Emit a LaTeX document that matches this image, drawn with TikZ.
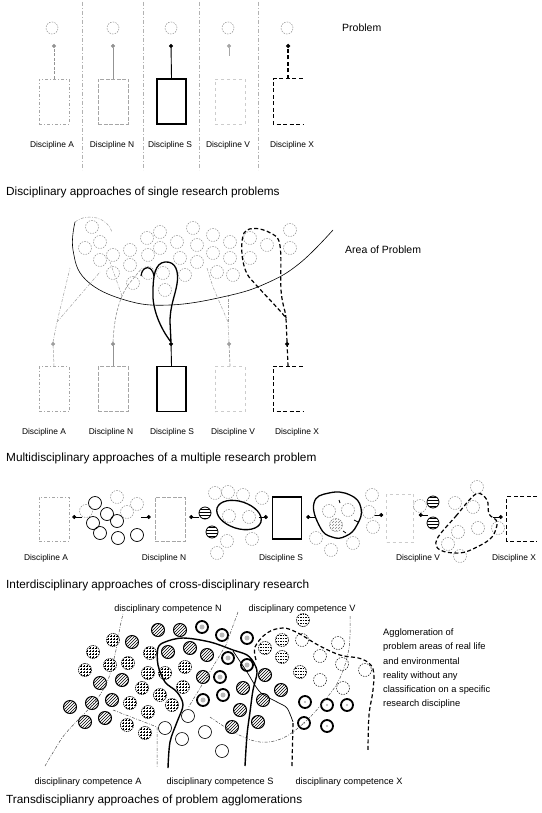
\documentclass[tikz,border=0pt]{standalone}
\usepackage{fontspec}
\setmainfont{Liberation Sans}
\usetikzlibrary{arrows.meta,patterns,calc,shapes.geometric}
\begin{document}
\begin{tikzpicture}[x=1pt,y=-1pt,
  lab/.style={font=\fontsize{8.4}{10}\selectfont, inner sep=0},
  clab/.style={font=\fontsize{9.2}{11}\selectfont, inner sep=0},
  captxt/.style={font=\fontsize{11.8}{13}\selectfont, anchor=west, inner sep=0},
  sidelab/.style={font=\fontsize{10.5}{12}\selectfont, anchor=west, inner sep=0},
  sepline/.style={gray!60, line width=0.4pt, dash pattern=on 4pt off 2pt on 1pt off 2pt},
  pcirc/.style={circle, draw=gray!85, line width=0.55pt, dash pattern=on 1.5pt off 1.2pt, minimum size=12pt, inner sep=0},
  boxbase/.style={minimum width=30pt, minimum height=45pt, inner sep=0},
  boxlight/.style={boxbase, draw=gray!70, line width=0.5pt, dash pattern=on 3pt off 2pt on 1pt off 2pt},
  boxN/.style={boxbase, draw=gray!70, line width=0.5pt, dash pattern=on 4pt off 1.5pt},
  boxS/.style={boxbase, draw, line width=1.3pt},
  boxV/.style={boxbase, draw=gray!40, line width=0.4pt, dash pattern=on 3pt off 3pt},
  boxX/.style={boxbase},
  xdash/.style={line width=1.2pt, dash pattern=on 4pt off 2.5pt},
  thinddot/.style={gray!75, line width=0.5pt, dash pattern=on 3pt off 1.5pt on 0.8pt off 1.5pt},
  dotarr/.style={-{Circle[length=4pt]}},
  mc/.style={gray!85, line width=0.55pt, dash pattern=on 1.5pt off 1.2pt},
  sc/.style={line width=0.7pt},
  cD/.style={line width=1pt, pattern=north east lines},
  cG/.style={line width=0.6pt, dash pattern=on 1.2pt off 0.8pt, pattern=grid},
  cH/.style={line width=0.6pt, dash pattern=on 1.5pt off 1pt, pattern=horizontal lines},
  cL/.style={line width=0.5pt, dash pattern=on 1.5pt off 1.2pt},
  cT/.style={line width=1.8pt},
  cO/.style={line width=0.6pt}
]
\fill[white] (0,0) rectangle (541,813);
\useasboundingbox (0,0) rectangle (541,813);

% ================= Section 1 =================
\foreach \x in {82,143,199,258} \draw[sepline] (\x,2) -- (\x,170);

\node[pcirc] (pA1) at (52,28) {};
\node[pcirc] (pN1) at (113,28) {};
\node[pcirc] (pS1) at (171,28) {};
\node[pcirc] (pV1) at (228,28) {};
\node[pcirc] (pX1) at (287,28) {};

\node[boxlight] (bA1) at (54,101.5) {};
\node[boxN] (bN1) at (113,101.5) {};
\node[boxS, minimum width=29pt] (bS1) at (171.5,101.5) {};
\node[boxV] (bV1) at (230,101.5) {};
\node[boxX, minimum width=29pt] (bX1) at (288,101.5) {};
\draw[xdash] (bX1.north east) -- (bX1.north west) -- (bX1.south west) -- (bX1.south east);

\coordinate (tA1) at (54,44);
\coordinate (tN1) at (113,44);
\coordinate (tS1) at (171,44);
\coordinate (tV1) at (229,44);
\coordinate (sV1) at (229,56);
\coordinate (tX1) at (288,44);
\draw[dotarr, gray!85, line width=0.8pt, dash pattern=on 3pt off 1.5pt] (bA1.north) -- (tA1);
\draw[dotarr, gray!85, line width=0.5pt] (bN1.north) -- (tN1);
\draw[dotarr, line width=0.9pt] (bS1.north) -- (tS1);
\draw[dotarr, gray!70, line width=0.5pt] (sV1) -- (tV1);
\draw[dotarr, xdash] (bX1.north) -- (tX1);

\node[lab] (lA1) at (52,145) {Discipline A};
\node[lab] (lN1) at (112,145) {Discipline N};
\node[lab] (lS1) at (170,145) {Discipline S};
\node[lab] (lV1) at (228,145) {Discipline V};
\node[lab] (lX1) at (292,145) {Discipline X};
\node[sidelab] (prob) at (342,28) {Problem};
\node[captxt] (cap1) at (6,192) {Disciplinary approaches of single research problems};

% ================= Section 2 =================
\foreach \x/\y in {92/227,100/242,85/248,100/260,113/255,113/273,130/250,130/265,147/238,160/232,148/255,160/248,177/242,165/290,163/273,148/273,133/283,193/228,197/245,180/258,185/275,197/262,213/235,213/253,230/242,230/258,217/272,233/275,250/238,250/258,267/245,290/230,290/248}
  \draw[mc] (\x,\y) circle (6.5);

\draw[line width=0.6pt] plot[smooth, tension=0.7] coordinates {(75,222) (73,250) (86,280) (125,300) (170,305) (227,296) (267,283) (300,263) (333,230)};
\node[sidelab] (area) at (345,250) {Area of Problem};

\node[boxlight] (bA2) at (54,389) {};
\node[boxN] (bN2) at (113,389) {};
\node[boxS, minimum width=29pt] (bS2) at (171.5,389) {};
\node[boxV] (bV2) at (230,389) {};
\node[boxX, minimum width=29pt] (bX2) at (288,389) {};
\draw[xdash] (bX2.north east) -- (bX2.north west) -- (bX2.south west) -- (bX2.south east);

\coordinate (dA2) at (53,342);
\coordinate (dN2) at (113,342);
\coordinate (dS2) at (171,342);
\coordinate (dV2) at (229,342);
\coordinate (dX2) at (287,342);
\draw[dotarr, gray!75, line width=0.5pt, dash pattern=on 3pt off 1.5pt] (bA2.north) -- (dA2);
\draw[dotarr, gray!85, line width=0.5pt] (bN2.north) -- (dN2);
\draw[dotarr, line width=0.9pt] (bS2.north) -- (dS2);
\draw[dotarr, gray!75, line width=0.7pt, dash pattern=on 3pt off 1.5pt] (bV2.north) -- (dV2);
\draw[dotarr, xdash] (bX2.north) -- (dX2);

% A branches
\draw[thinddot] (dA2) -- (57,322) -- (70,268);
\draw[thinddot] (57,322) -- (100,272);
\draw[thinddot] (75,222) .. controls (88,212) and (108,218) .. (112,232);
% N branches
\draw[gray!85, line width=0.6pt, dash pattern=on 3pt off 1.5pt] (dN2) .. controls (114,320) and (118,300) .. (128,285) -- (142,268);
\draw[thinddot] (122,296) -- (110,262);
% S thick loop
\draw[line width=1.3pt] (dS2) .. controls (160,328) and (152,308) .. (153,292) .. controls (153,276) and (155,263) .. (165,262) .. controls (176,261) and (179,272) .. (177,284) .. controls (175,296) and (170,306) .. (170,322) -- (dS2);
\draw[line width=1.2pt] (141,276) .. controls (142,266) and (152,264) .. (154,276);
% V branches
\draw[thinddot] (dV2) -- (228,322) -- (213,287) -- (207,268);
\draw[thinddot] (228,322) -- (228,296);
% X thick dashed loop
\draw[xdash] (dX2) -- (286,318) .. controls (280,310) and (262,292) .. (249,277) .. controls (241,266) and (240,242) .. (244,233) .. controls (249,225) and (265,228) .. (277,237) .. controls (283,245) and (280,270) .. (281,290) .. controls (282,305) and (286,312) .. (286,318);

\node[lab] (lA2) at (44,432) {Discipline A};
\node[lab] (lN2) at (111,432) {Discipline N};
\node[lab] (lS2) at (172,432) {Discipline S};
\node[lab] (lV2) at (233,432) {Discipline V};
\node[lab] (lX2) at (297,432) {Discipline X};
\node[captxt] (cap2) at (6,458) {Multidisciplinary approaches of a multiple research problem};

% ================= Section 3 =================
\node[boxlight, minimum height=44pt] (bA3) at (54,519) {};
\node[boxN, minimum height=44pt] (bN3) at (170,519) {};
\node[boxS, minimum height=42pt, minimum width=29pt] (bS3) at (287,518) {};
\node[boxV, minimum height=48pt, minimum width=27pt] (bV3) at (400,518) {};
\node[boxX, minimum height=44pt] (bX3) at (522,519) {};
\draw[xdash] (bX3.north east) -- (bX3.north west) -- (bX3.south west) -- (bX3.south east);

\draw[dotarr, line width=0.7pt] ($(bA3.east)+(13,-2)$) -- ($(bA3.east)+(3,-2)$);
\draw[dotarr, line width=0.7pt] ($(bN3.west)+(-14,-2)$) -- ($(bN3.west)+(-4,-2)$);
\draw[dotarr, line width=0.7pt] ($(bN3.east)+(14,-2)$) -- ($(bN3.east)+(4,-2)$);
\draw[dotarr, line width=0.7pt] ($(bS3.west)+(-13,-1)$) -- ($(bS3.west)+(-4,-1)$);
\draw[dotarr, line width=0.7pt] ($(bS3.east)+(13,-1)$) -- ($(bS3.east)+(4,-1)$);
\draw[dotarr, line width=0.7pt] ($(bV3.west)+(-12,-3)$) -- ($(bV3.west)+(-3,-3)$);
\draw[dotarr, line width=0.7pt] ($(bV3.east)+(14,-3)$) -- ($(bV3.east)+(5,-3)$);
\draw[dotarr, line width=0.7pt] ($(bX3.west)+(-14,-2)$) -- ($(bX3.west)+(-4,-2)$);

% A-N cluster
\foreach \x/\y in {95/503,107/514,93/523,100/533,118/538,137/535,117/521}
  \draw[sc] (\x,\y) circle (6.5);
\foreach \x/\y in {117/497,137/504,127/512,86/511}
  \draw[mc] (\x,\y) circle (6.5);
% N-S cluster
\foreach \x/\y in {215/493,228/492,243/495,227/541,252/539,217/553,262/498}
  \draw[mc] (\x,\y) circle (6.5);
\draw[line width=0.8pt, pattern=horizontal lines] (205,513) circle (6);
\draw[line width=0.8pt, pattern=horizontal lines] (212,532) circle (6);
\draw[line width=1.3pt, rotate around={-18:(239,515)}] (239,515) ellipse (23 and 13.5);
\draw[mc, gray!95] (229,516) circle (6.5);
\draw[mc, gray!95] (249,517) circle (6.5);
% S-V cluster
\foreach \x/\y in {372/495,369/512,373/527,353/543,331/550,316/538}
  \draw[mc] (\x,\y) circle (6.5);
\draw[line width=1.3pt] plot[smooth cycle, tension=0.8] coordinates {(314,503) (329,493) (350,495) (361,508) (357,525) (346,536) (332,537) (320,527)};
\draw[mc, gray!95] (329,511) circle (6.5);
\draw[mc, gray!95] (348,510) circle (6.5);
\draw[mc, gray!95, pattern=north east lines, pattern color=gray] (336,525) circle (6.5);
\draw[line width=0.8pt] (339,500) -- (340,503) (354,520) -- (358,522) (343,531) -- (346,533);
% V-X cluster
\draw[line width=0.8pt, pattern=horizontal lines] (433,502) circle (6);
\draw[line width=0.8pt, pattern=horizontal lines] (433,523) circle (6);
\foreach \x/\y in {455/503,477/487,498/528,460/556,420/506}
  \draw[mc] (\x,\y) circle (6.5);
\draw[xdash] plot[smooth cycle, tension=0.6] coordinates {(437,539) (456,516) (476,494) (487,500) (489,514) (497,522) (492,537) (477,547) (460,553) (440,550)};
\foreach \x/\y in {473/507,478/528,458/532,448/544}
  \draw[mc, gray!95] (\x,\y) circle (6.5);

\node[lab] (lA3) at (46,558) {Discipline A};
\node[lab] (lN3) at (164,558) {Discipline N};
\node[lab] (lS3) at (281,558) {Discipline S};
\node[lab] (lV3) at (418,558) {Discipline V};
\node[lab] (lX3) at (514,558) {Discipline X};
\node[captxt] (cap3) at (6,585) {Interdisciplinary approaches of cross-disciplinary research};

% ================= Section 4 =================
% diagonal hatched
\foreach \x/\y in {132/642,158/630,180/630,168/652,190/648,207/655,203/677,100/683,122/680,70/707,92/703,112/700,85/722,105/718,243/688,265/675,263/700,240/710,258/722,232/727,281/690}
  \draw[cD] (\x,\y) circle (6.5);
% grid
\foreach \x/\y in {113/640,93/652,150/653,85/670,110/665,128/663,148/673,185/667,165/673,142/688,183/687,160/695,172/705,130/703,148/712,127/725,145/733}
  \draw[cG] (\x,\y) circle (6.5);
% thick rings with hatched core
\foreach \x/\y in {202/627,222/635,247/638,228/658,247/665,220/677,223/695,203/700}
  {\draw[cT] (\x,\y) circle (6);
   \fill[gray!55] (\x,\y) circle (2.5);}
% plain thin circles
\foreach \x/\y in {188/716,165/728,182/739,205/732,222/751}
  \draw[cO] (\x,\y) circle (6.5);
% horizontal lined
\foreach \x/\y in {265/648,282/640,282/657,303/620,300/672}
  \draw[cH] (\x,\y) circle (6.5);
% dashed light
\foreach \x/\y in {302/640,320/656,320/680,338/643,342/664,365/670,343/688}
  \draw[cL] (\x,\y) circle (6.5);
% thick rings with dot
\foreach \x/\y in {305/702,327/705,347/705,304/723,327/726}
  {\draw[cT] (\x,\y) circle (6);
   \fill[gray!60] (\x,\y) circle (1.2);}

% S region (thick solid)
\draw[line width=1.4pt] plot[smooth, tension=0.55] coordinates {(168,768) (170,742) (177,722) (183,705) (177,692) (165,682) (158,665) (158,648) (165,642) (183,638) (210,642) (233,650) (247,655) (254,663) (257,673) (253,690) (250,712) (247,735) (245,766)};
% N line (thin solid)
\draw[line width=0.7pt] plot[smooth, tension=0.5] coordinates {(233,651) (247,672) (260,692) (277,702) (287,708) (293,722)};
% X region (thick dashed)
\draw[xdash] (292,766) -- (293,722);
\draw[xdash] plot[smooth, tension=0.6] coordinates {(256,660) (255,647) (267,633) (283,628) (298,633) (318,645) (340,655) (362,659) (373,669) (373,690) (369,715) (368,750)};
% V region (thin dash-dot)
\draw[thinddot, black!70] plot[smooth, tension=0.6] coordinates {(350,616) (349,648) (340,678) (325,700) (305,722) (283,738) (260,742) (235,733) (210,717)};
% A region (thin dash-dot)
\draw[thinddot, black!70] plot[smooth, tension=0.5] coordinates {(45,766) (62,738) (76,722) (95,702) (108,680) (116,650) (120,627) (123,614)};
\draw[thinddot, black!70] (113,710) -- (157,727) -- (157,768);
% N pointer
\draw[thinddot, black!70] (238,612) -- (226,645) -- (188,708);

\node[clab] (cN) at (168,609) {disciplinary competence N};
\node[clab] (cV) at (302,609) {disciplinary competence V};
\node[clab] (cA) at (88,782) {disciplinary competence A};
\node[clab] (cS) at (220,782) {disciplinary competence S};
\node[clab] (cX) at (349,782) {disciplinary competence X};

\node[font=\fontsize{9.3}{14.3}\selectfont, align=left, anchor=north west, inner sep=0] (agg) at (383,628.5) {Agglomeration of\\problem areas of real life\\and environmental\\reality without any\\classification on a specific\\research discipline};

\node[captxt] (cap4) at (6,800) {Transdisciplianry approaches of problem agglomerations};
\end{tikzpicture}
\end{document}
